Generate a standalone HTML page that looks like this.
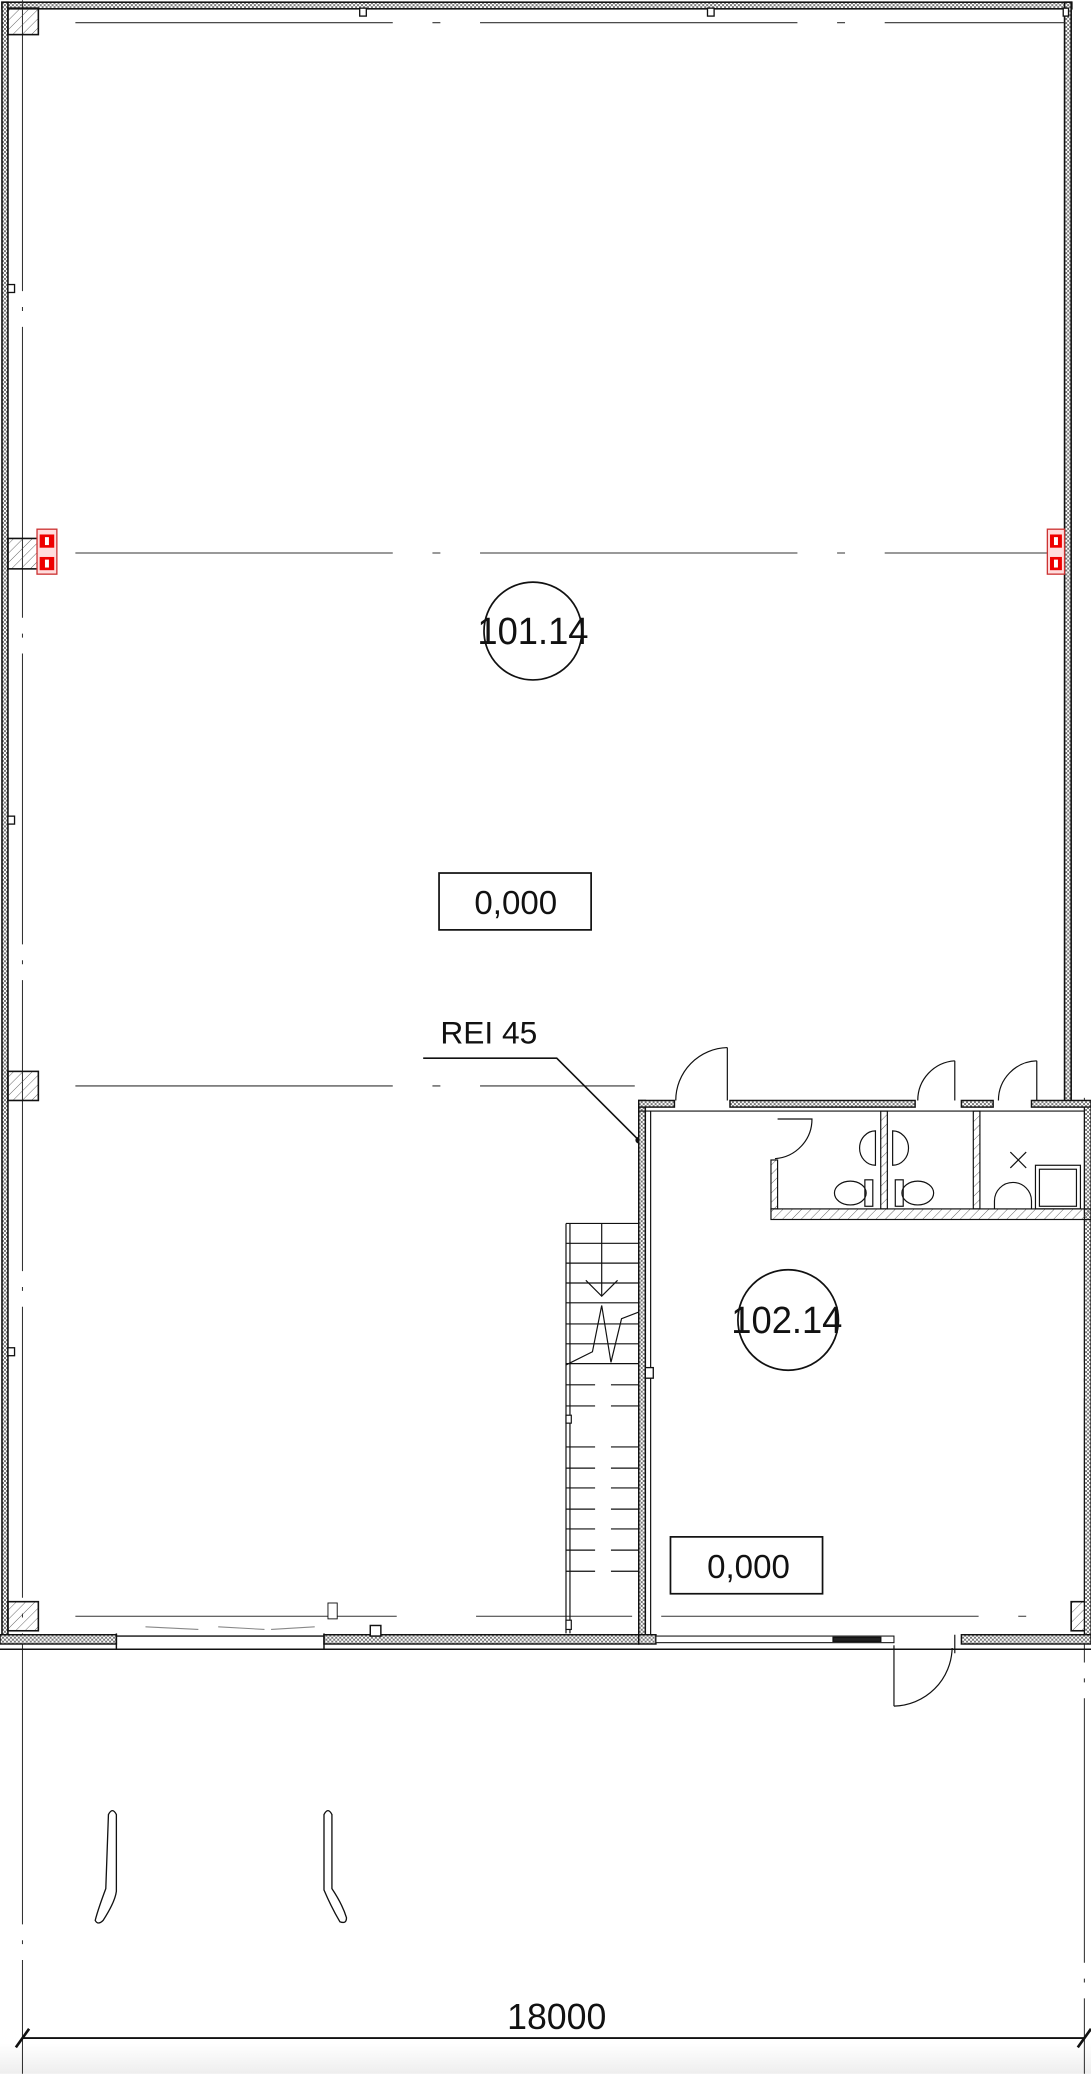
<!DOCTYPE html>
<html><head><meta charset="utf-8"><style>
html,body{margin:0;padding:0;background:#fff}
svg{display:block}
text{font-family:"Liberation Sans",sans-serif;fill:#111}
</style></head><body>
<svg width="1091" height="2074" viewBox="0 0 825 1568" xmlns="http://www.w3.org/2000/svg">
<defs>
<pattern id="h" width="5" height="5" patternUnits="userSpaceOnUse" patternTransform="rotate(45)"><line x1="0" y1="0" x2="0" y2="5" stroke="#444" stroke-width="0.6"/></pattern>
<pattern id="x" width="3" height="3" patternUnits="userSpaceOnUse"><rect width="3" height="3" fill="#fff"/><rect width="1.5" height="1.5" fill="#777"/><rect x="1.5" y="1.5" width="1.5" height="1.5" fill="#777"/></pattern>
<linearGradient id="g" x1="0" y1="0" x2="0" y2="1"><stop offset="0" stop-color="#fff"/><stop offset="1" stop-color="#eee"/></linearGradient>
</defs>
<rect x="0" y="1545" width="825" height="23" fill="url(#g)"/>
<!-- outer walls -->
<rect x="1.5" y="1.5" width="809" height="5" fill="url(#x)" stroke="#111" stroke-width="1.2"/>
<rect x="1.5" y="1.5" width="4.5" height="1238" fill="url(#x)" stroke="#111" stroke-width="1.2"/>
<rect x="805" y="1.5" width="5" height="832" fill="url(#x)" stroke="#111" stroke-width="1.2"/>
<!-- axis lines -->
<g stroke="#333" stroke-width="0.8" fill="none">
<line x1="17" y1="0" x2="17" y2="1568" stroke-dasharray="220,12,3,12"/>
<line x1="820" y1="830" x2="820" y2="1568" stroke-dasharray="200,12,3,12"/>
<line x1="57" y1="17" x2="805" y2="17" stroke-dasharray="240,30,6,30"/>
<line x1="57" y1="418" x2="805" y2="418" stroke-dasharray="240,30,6,30"/>
<line x1="57" y1="821" x2="480" y2="821" stroke-dasharray="240,30,6,30"/>
<line x1="57" y1="1222" x2="300" y2="1222"/>
<line x1="360" y1="1222" x2="478" y2="1222"/>
<line x1="500" y1="1222" x2="800" y2="1222" stroke-dasharray="240,30,6,30"/>
</g>
<!-- columns -->
<g fill="url(#h)" stroke="#111" stroke-width="1.2">
<rect x="6" y="6" width="23" height="20"/>
<rect x="6" y="407" width="23" height="23"/>
<rect x="6" y="810" width="23" height="22"/>
<rect x="6" y="1211" width="23" height="22"/>
<rect x="810" y="1211" width="15" height="22"/>
</g>
<!-- small wall marks -->
<g fill="#fff" stroke="#111" stroke-width="1">
<rect x="272" y="6" width="5" height="6"/><rect x="535" y="6" width="5" height="6"/><rect x="804" y="6" width="4" height="6"/>
<rect x="6" y="215" width="5" height="6"/><rect x="6" y="617" width="5" height="6"/><rect x="6" y="1019" width="5" height="6"/>
</g>
<!-- red fire items -->
<g>
<rect x="28" y="400" width="15" height="34" fill="#fdd" stroke="#c33" stroke-width="1"/>
<rect x="30" y="404" width="11" height="10" fill="#e00"/><rect x="30" y="421" width="11" height="10" fill="#e00"/>
<rect x="34" y="406" width="3" height="6" fill="#fff"/><rect x="34" y="423" width="3" height="6" fill="#fff"/>
<rect x="792" y="400" width="13" height="34" fill="#fdd" stroke="#c33" stroke-width="1"/>
<rect x="794" y="404" width="9" height="10" fill="#e00"/><rect x="794" y="421" width="9" height="10" fill="#e00"/>
<rect x="797" y="406" width="3" height="6" fill="#fff"/><rect x="797" y="423" width="3" height="6" fill="#fff"/>
</g>
<!-- labels main room -->
<circle cx="403" cy="477" r="37" fill="none" stroke="#111" stroke-width="1.3"/>
<text x="403" y="487" font-size="29" text-anchor="middle" textLength="84" lengthAdjust="spacingAndGlyphs">101.14</text>
<rect x="332" y="660" width="115" height="43" fill="none" stroke="#111" stroke-width="1.3"/>
<text x="390" y="691" font-size="25" text-anchor="middle">0,000</text>
<text x="333" y="789" font-size="24">REI 45</text>
<polyline points="320,800 421,800 483,862" fill="none" stroke="#111" stroke-width="1.2"/>
<circle cx="483" cy="862" r="2.5" fill="#111"/>
<!-- inner room walls -->
<rect x="483" y="832" width="5" height="406" fill="url(#x)" stroke="#111" stroke-width="1.1"/>
<line x1="492" y1="840" x2="492" y2="1238" stroke="#111" stroke-width="0.9"/>
<rect x="483" y="832" width="27" height="5" fill="url(#x)" stroke="#111" stroke-width="1.1"/>
<rect x="552" y="832" width="140" height="5" fill="url(#x)" stroke="#111" stroke-width="1.1"/>
<rect x="727" y="832" width="24" height="5" fill="url(#x)" stroke="#111" stroke-width="1.1"/>
<rect x="780" y="832" width="45" height="5" fill="url(#x)" stroke="#111" stroke-width="1.1"/>
<line x1="483" y1="840" x2="825" y2="840" stroke="#111" stroke-width="0.8"/>
<rect x="820" y="837" width="5" height="400" fill="url(#x)" stroke="#111" stroke-width="0.9"/>
<rect x="488" y="1034" width="6" height="8" fill="#fff" stroke="#111"/>
<!-- doors top -->
<g fill="none" stroke="#111" stroke-width="0.9">
<line x1="550" y1="792" x2="550" y2="832"/><path d="M550,792 A40,40 0 0 0 511,832"/>
<line x1="722" y1="802" x2="722" y2="832"/><path d="M722,802 A30,30 0 0 0 694,832"/>
<line x1="784" y1="802" x2="784" y2="832"/><path d="M784,802 A30,30 0 0 0 755,832"/>
</g>
<!-- toilet block -->
<g stroke="#111" stroke-width="0.9">
<rect x="583" y="914" width="242" height="8" fill="url(#h)"/>
<rect x="583" y="877" width="5" height="37" fill="url(#h)"/>
<rect x="666" y="840" width="5" height="74" fill="url(#h)"/>
<rect x="736" y="840" width="5" height="74" fill="url(#h)"/>
<path d="M588,846 h26 a30,30 0 0 1 -28,30" fill="none"/>
<path d="M662,855 a12,13 0 0 0 0,26 z" fill="none"/>
<path d="M675,855 a12,13 0 0 1 0,26 z" fill="none"/>
<rect x="654" y="892" width="6" height="20" fill="#fff"/><ellipse cx="643" cy="902" rx="12" ry="9" fill="none"/>
<rect x="677" y="892" width="6" height="20" fill="#fff"/><ellipse cx="694" cy="902" rx="12" ry="9" fill="none"/>
<path d="M752,914 v-6 a14,14 0 0 1 28,0 v6" fill="none"/>
<rect x="783" y="881" width="34" height="33" fill="none"/><rect x="786" y="884" width="28" height="28" fill="none"/>
<path d="M764,871 l12,12 M776,871 l-12,12" fill="none"/>
</g>
<!-- circle 102.14 -->
<circle cx="596" cy="998" r="38" fill="none" stroke="#111" stroke-width="1.3"/>
<text x="595" y="1008" font-size="29" text-anchor="middle" textLength="84" lengthAdjust="spacingAndGlyphs">102.14</text>
<rect x="507" y="1162" width="115" height="43" fill="none" stroke="#111" stroke-width="1.3"/>
<text x="566" y="1193" font-size="25" text-anchor="middle">0,000</text>
<!-- stairs -->
<g stroke="#111" stroke-width="0.9" fill="none">
<line x1="428" y1="925" x2="428" y2="1235"/><line x1="431" y1="925" x2="431" y2="1235"/>
<line x1="428" y1="925" x2="483" y2="925"/>
<line x1="428" y1="940" x2="483" y2="940"/><line x1="428" y1="955" x2="483" y2="955"/>
<line x1="428" y1="970" x2="483" y2="970"/><line x1="428" y1="985" x2="483" y2="985"/>
<line x1="428" y1="1001" x2="483" y2="1001"/><line x1="428" y1="1016" x2="483" y2="1016"/>
<line x1="428" y1="1031" x2="483" y2="1031"/>
<line x1="455" y1="925" x2="455" y2="980"/><polyline points="443,968 455,980 467,968"/>
<polyline points="428,1032 448,1022 455,987 462,1030 470,997 483,992"/>
<g stroke-dasharray="22,12">
<line x1="428" y1="1047" x2="483" y2="1047"/><line x1="428" y1="1063" x2="483" y2="1063"/>
<line x1="428" y1="1094" x2="483" y2="1094"/><line x1="428" y1="1110" x2="483" y2="1110"/>
<line x1="428" y1="1125" x2="483" y2="1125"/><line x1="428" y1="1141" x2="483" y2="1141"/>
<line x1="428" y1="1156" x2="483" y2="1156"/><line x1="428" y1="1172" x2="483" y2="1172"/>
<line x1="428" y1="1188" x2="483" y2="1188"/>
</g>
<rect x="428" y="1070" width="4" height="6" fill="#fff"/><rect x="428" y="1225" width="4" height="7" fill="#fff"/>
</g>
<!-- bottom wall -->
<g stroke="#111" stroke-width="1.1">
<rect x="0" y="1236" width="88" height="7" fill="url(#x)"/>
<rect x="245" y="1236" width="238" height="7" fill="url(#x)"/>
<rect x="483" y="1236" width="13" height="7" fill="url(#x)"/>
<rect x="727" y="1236" width="98" height="7" fill="url(#x)"/>
<rect x="496" y="1237" width="180" height="5" fill="#fff" stroke-width="0.8"/>
<rect x="630" y="1238" width="36" height="3" fill="#222"/>
<line x1="0" y1="1247" x2="825" y2="1247"/>
<line x1="88" y1="1237" x2="245" y2="1237"/>
<line x1="88" y1="1235" x2="88" y2="1247"/><line x1="245" y1="1235" x2="245" y2="1247"/>
<rect x="280" y="1229" width="8" height="8" fill="#fff"/>
<rect x="248" y="1212" width="7" height="12" fill="#fff" stroke-width="0.7"/>
</g>
<g stroke="#888" stroke-width="0.8"><line x1="110" y1="1230" x2="150" y2="1232"/><line x1="165" y1="1230" x2="200" y2="1232"/><line x1="205" y1="1232" x2="238" y2="1230"/></g>
<!-- outside door -->
<g fill="none" stroke="#111" stroke-width="0.9">
<line x1="676" y1="1244" x2="676" y2="1290"/><path d="M676,1290 A45,45 0 0 0 720,1246"/>
<line x1="722" y1="1236" x2="722" y2="1250"/>
</g>
<!-- bike racks -->
<g fill="none" stroke="#111" stroke-width="1">
<path d="M82,1372 q3,-6 6,0 v58 q-1,8 -10,22 q-4,4 -6,0 q2,-8 8,-24 z"/>
<path d="M245,1372 q3,-6 6,0 v56 q8,12 11,22 q0,5 -5,3 q-6,-10 -12,-24 z"/>
</g>
<!-- dimension -->
<line x1="17" y1="1541" x2="820" y2="1541" stroke="#111" stroke-width="1.4"/>
<line x1="12" y1="1548" x2="22" y2="1534" stroke="#111" stroke-width="2"/>
<line x1="815" y1="1548" x2="825" y2="1534" stroke="#111" stroke-width="2"/>
<text x="421" y="1534" font-size="27" text-anchor="middle">18000</text>
</svg>
</body></html>
